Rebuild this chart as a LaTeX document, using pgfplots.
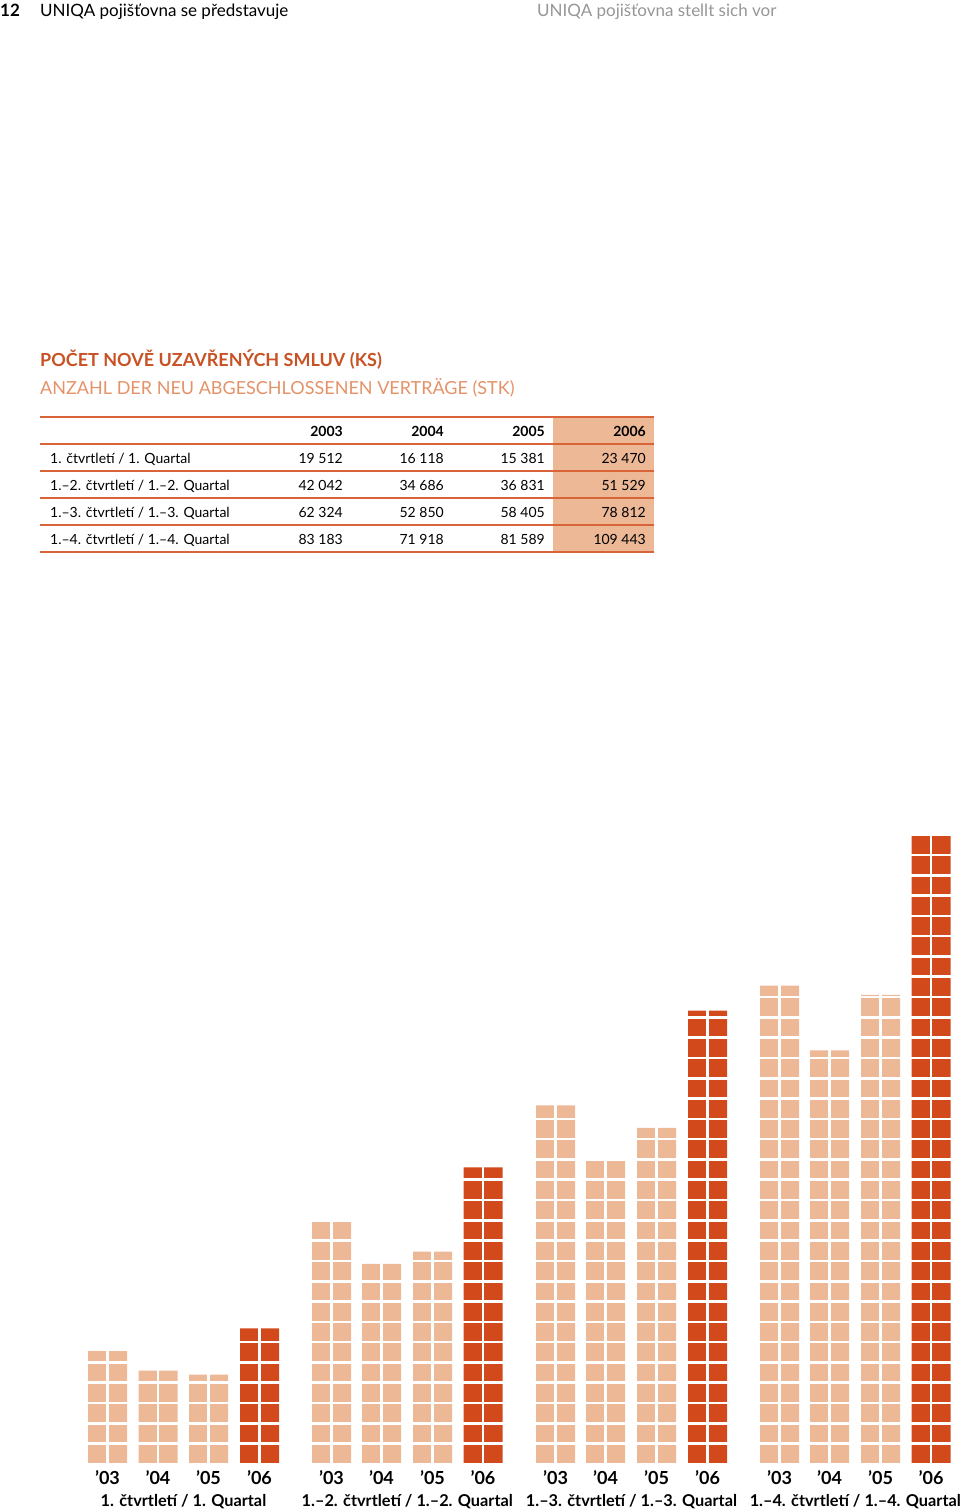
\documentclass[border=0pt]{standalone}
\usepackage{fontspec}
\setmainfont{Lato}
\usepackage{pgfplots}
\pgfplotsset{compat=1.18}
\definecolor{darkbar}{RGB}{210,74,28}
\definecolor{lightbar}{RGB}{237,184,150}
\definecolor{titleA}{RGB}{200,82,36}
\definecolor{titleB}{RGB}{228,146,104}
\definecolor{rule}{RGB}{217,100,58}
\definecolor{hdrgray}{RGB}{150,150,150}
\begin{document}
\begin{tikzpicture}[x=1pt,y=1pt]
\path[use as bounding box] (0,0) rectangle (960,1512);
% page header
\node[anchor=base west,inner sep=0,font=\fontsize{17}{20}\selectfont\bfseries] at (0,1495) {12};
\node[anchor=base west,inner sep=0,font=\fontsize{17}{20}\selectfont] at (40,1495) {UNIQA pojišťovna se představuje};
\node[anchor=base west,inner sep=0,font=\fontsize{17}{20}\selectfont,text=hdrgray] at (537,1495) {UNIQA pojišťovna stellt sich vor};
% titles
\node[anchor=base west,inner sep=0,font=\fontsize{18}{22}\selectfont\bfseries,text=titleA] at (40,1145) {POČET NOVĚ UZAVŘENÝCH SMLUV (KS)};
\node[anchor=base west,inner sep=0,font=\fontsize{18}{22}\selectfont,text=titleB] at (40,1117) {ANZAHL DER NEU ABGESCHLOSSENEN VERTRÄGE (STK)};
% table
\fill[lightbar] (553,960) rectangle (654,1095);
\draw[rule,line width=2pt] (40,1095) -- (654,1095);
\foreach \yy in {1068,1041,1014,987,960} {\draw[rule,line width=1.2pt] (40,\yy) -- (654,\yy);}
\begin{scope}[every node/.style={inner sep=0,font=\fontsize{14}{16}\selectfont}]
\node[anchor=base east,font=\fontsize{14}{16}\selectfont\bfseries] at (343,1075) {2003};
\node[anchor=base east,font=\fontsize{14}{16}\selectfont\bfseries] at (444,1075) {2004};
\node[anchor=base east,font=\fontsize{14}{16}\selectfont\bfseries] at (545,1075) {2005};
\node[anchor=base east,font=\fontsize{14}{16}\selectfont\bfseries] at (646,1075) {2006};
\node[anchor=base west] at (50,1048) {1. čtvrtletí / 1. Quartal};
\node[anchor=base west] at (50,1021) {1.–2. čtvrtletí / 1.–2. Quartal};
\node[anchor=base west] at (50,994) {1.–3. čtvrtletí / 1.–3. Quartal};
\node[anchor=base west] at (50,967) {1.–4. čtvrtletí / 1.–4. Quartal};
\node[anchor=base east] at (343,1048) {19 512};
\node[anchor=base east] at (444,1048) {16 118};
\node[anchor=base east] at (545,1048) {15 381};
\node[anchor=base east] at (646,1048) {23 470};
\node[anchor=base east] at (343,1021) {42 042};
\node[anchor=base east] at (444,1021) {34 686};
\node[anchor=base east] at (545,1021) {36 831};
\node[anchor=base east] at (646,1021) {51 529};
\node[anchor=base east] at (343,994) {62 324};
\node[anchor=base east] at (444,994) {52 850};
\node[anchor=base east] at (545,994) {58 405};
\node[anchor=base east] at (646,994) {78 812};
\node[anchor=base east] at (343,967) {83 183};
\node[anchor=base east] at (444,967) {71 918};
\node[anchor=base east] at (545,967) {81 589};
\node[anchor=base east] at (646,967) {109 443};
\end{scope}
% chart
\begin{axis}[
  at={(0pt,49pt)}, anchor=south west,
  scale only axis, width=960pt, height=659.9pt,
  xmin=0, xmax=960, ymin=0, ymax=115000,
  axis on top,
  axis line style={draw=none},
  major tick length=0pt,
  ybar, bar width=39pt,
  ytick=\empty,
  xmajorgrids,
  major grid style={white,line width=2.6pt},
  xtick={107.5,158,208.5,259.5,331.5,381.5,432.5,483,555.5,605.5,656.5,707.5,779.5,829.5,880.5,931},
  xticklabels={’03,’04,’05,’06,’03,’04,’05,’06,’03,’04,’05,’06,’03,’04,’05,’06},
  xticklabel style={font=\fontsize{18}{20}\selectfont\bfseries, anchor=base, yshift=-21pt},
  clip=false,
]
\addplot[fill=lightbar,draw=none,bar shift=0pt] coordinates {
  (107.5,19512) (158,16118) (208.5,15381)
  (331.5,42042) (381.5,34686) (432.5,36831)
  (555.5,62324) (605.5,52850) (656.5,58405)
  (779.5,83183) (829.5,71918) (880.5,81589)};
\addplot[fill=darkbar,draw=none,bar shift=0pt] coordinates {
  (259.5,23470) (483,51529) (707.5,78812) (931,109443)};
\pgfplotsinvokeforeach{1,...,32}{
  \draw[white,line width=2.6pt] (axis cs:0,#1*3538-170) -- (axis cs:960,#1*3538-170);
}
\begin{scope}[every node/.style={anchor=base,inner sep=0,yshift=-43pt,font=\fontsize{16.3}{18}\selectfont\bfseries}]
\node at (axis cs:183.5,0) {1. čtvrtletí / 1. Quartal};
\node at (axis cs:407.3,0) {1.–2. čtvrtletí / 1.–2. Quartal};
\node at (axis cs:631.5,0) {1.–3. čtvrtletí / 1.–3. Quartal};
\node at (axis cs:855.3,0) {1.–4. čtvrtletí / 1.–4. Quartal};
\end{scope}
\end{axis}
\end{tikzpicture}
\end{document}
